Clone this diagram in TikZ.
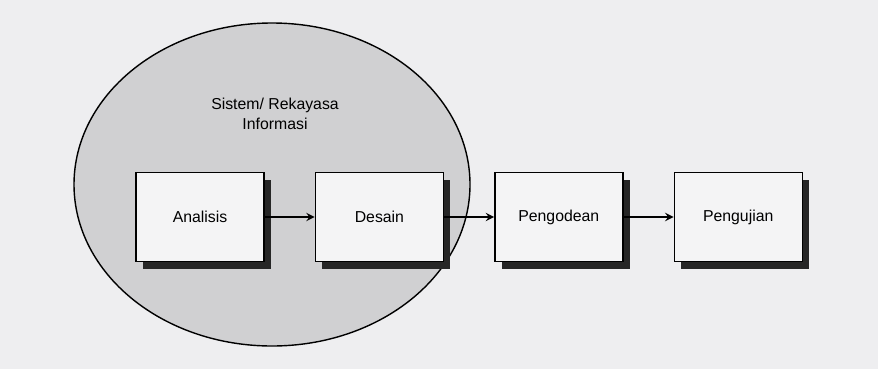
\documentclass[tikz,border=0pt]{standalone}
\usepackage{fontspec}
\setmainfont{Liberation Sans}
\usepackage{tikz}
\usetikzlibrary{shapes,arrows,positioning,calc,shadows}

\definecolor{paper}{RGB}{238,238,240}
\definecolor{scangray}{RGB}{208,208,210}
\definecolor{boxfill}{RGB}{244,244,245}

\tikzset{
  phase/.style={draw, rectangle, line width=0.8pt, fill=boxfill,
    minimum width=2.56cm, minimum height=1.78cm, inner sep=0pt,
    font=\fontsize{9pt}{11pt}\selectfont,
    drop shadow={shadow xshift=4pt, shadow yshift=-4.5pt, fill=black!85, opacity=1}},
  flow/.style={->, >=stealth, line width=1.1pt}
}

\begin{document}
\begin{tikzpicture}
\useasboundingbox[fill=paper] (0,0) rectangle (17.56,7.38);
\node[draw, ellipse, line width=0.8pt, fill=scangray, minimum width=7.92cm, minimum height=6.46cm] (Scope) at (5.44,3.69) {};
\node[align=center, font=\fontsize{9pt}{11.3pt}\selectfont] (ScopeLabel) at (5.5,5.1) {Sistem/ Rekayasa\\Informasi};
\node[phase] (Analisis) at (4.0,3.04) {Analisis};
\node[phase, right=1cm of Analisis] (Desain) {Desain};
\node[phase, right=1cm of Desain] (Pengodean) {Pengodean};
\node[phase, right=1cm of Pengodean] (Pengujian) {Pengujian};
\draw[flow] (Analisis) -- (Desain);
\draw[flow] (Desain) -- (Pengodean);
\draw[flow] (Pengodean) -- (Pengujian);
\end{tikzpicture}
\end{document}
